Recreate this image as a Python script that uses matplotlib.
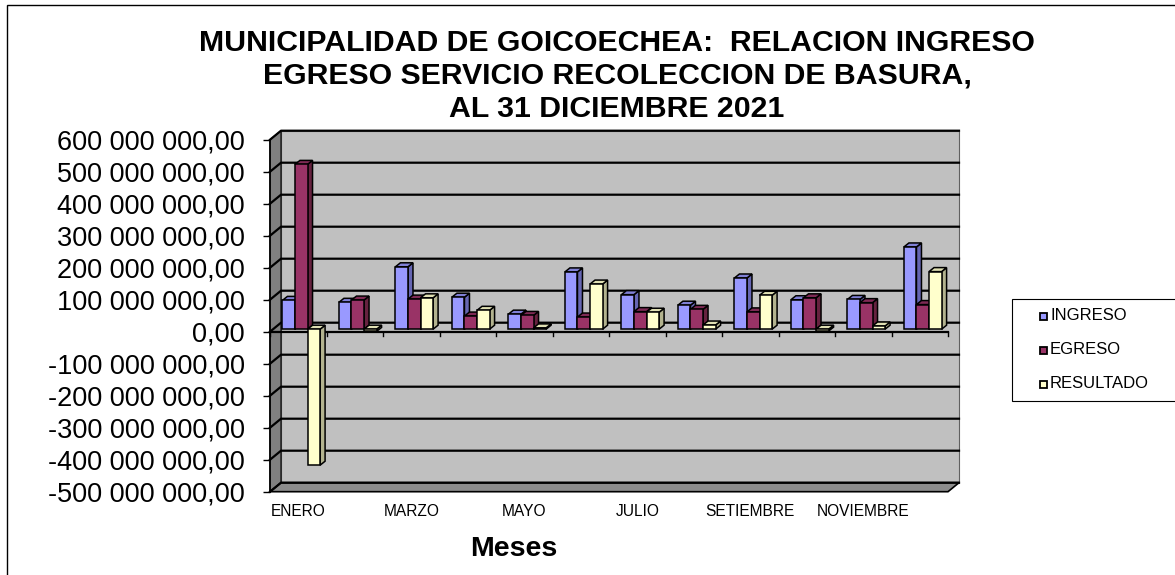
import matplotlib
matplotlib.use('Agg')
import matplotlib.pyplot as plt
from matplotlib.patches import Polygon, Rectangle
from matplotlib.lines import Line2D
from matplotlib.transforms import IdentityTransform
from matplotlib.ticker import FuncFormatter

plt.rcParams['font.family'] = ['Liberation Sans', 'DejaVu Sans']

# datos
meses = ['ENERO', 'FEBRERO', 'MARZO', 'ABRIL', 'MAYO', 'JUNIO', 'JULIO',
         'AGOSTO', 'SETIEMBRE', 'OCTUBRE', 'NOVIEMBRE', 'DICIEMBRE']
ingreso = [90e6, 84e6, 195e6, 100e6, 47e6, 179e6, 108e6, 75e6, 160e6, 92e6, 93e6, 257e6]
egreso = [515e6, 91e6, 94e6, 41e6, 43e6, 38e6, 55e6, 62e6, 54e6, 98e6, 83e6, 77e6]
resultado = [-425e6, -7e6, 98e6, 59e6, 4e6, 141e6, 53e6, 13e6, 106e6, -6e6, 10e6, 180e6]
series = ['INGRESO', 'EGRESO', 'RESULTADO']
y_ticks = [-500e6, -400e6, -300e6, -200e6, -100e6, 0, 100e6, 200e6, 300e6, 400e6, 500e6, 600e6]

front_col = ['#9999FF', '#993366', '#FFFFCC']
top_col = ['#8080D6', '#7F2A55', '#E0E0B3']
side_col = ['#6666B3', '#66223F', '#B3B38F']

W, H = 1175, 575
fig = plt.figure(figsize=(W / 100, H / 100), dpi=100)
ax = fig.add_axes([270 / W, 1 - 491.7 / H, 678 / W, 352 / H])
ymin, ymax = y_ticks[0], y_ticks[-1]
ncat = len(meses)
ax.set_xlim(0, ncat)
ax.set_ylim(ymin, ymax)
ax.patch.set_visible(False)

DEPTH = (11, 9)       # profundidad de las paredes (px)
BAR_OFF = (3, 2.5)    # barras un poco detras del plano frontal
BAR_DEPTH = (5, 4)


def px(x, y, off=(0, 0)):
    p = ax.transData.transform((x, y))
    return (p[0] + off[0], p[1] + off[1])


def add(pts, fc, z, ec='black', lw=0.8):
    ax.add_patch(Polygon(pts, closed=True, facecolor=fc, edgecolor=ec, linewidth=lw,
                         transform=IdentityTransform(), zorder=z, clip_on=False))


def line(pts, z, lw=1.6, color='black'):
    xs = [p[0] for p in pts]
    ys = [p[1] for p in pts]
    ax.add_line(Line2D(xs, ys, color=color, linewidth=lw, transform=IdentityTransform(),
                       zorder=z, clip_on=False))


# paredes
add([px(0, ymin, DEPTH), px(ncat, ymin, DEPTH), px(ncat, ymax, DEPTH), px(0, ymax, DEPTH)],
    '#C0C0C0', 0.5, ec='#606060', lw=0.8)
add([px(0, ymin), px(0, ymax), px(0, ymax, DEPTH), px(0, ymin, DEPTH)], '#808080', 0.6, lw=0.8)
add([px(0, ymin), px(ncat, ymin), px(ncat, ymin, DEPTH), px(0, ymin, DEPTH)], '#8C8C8C', 0.6, lw=1.2)

# lineas de division
for yt in y_ticks:
    line([px(0, yt), px(0, yt, DEPTH), px(ncat, yt, DEPTH)], 0.8)

# eje de categorias en cero
line([px(0, 0), px(ncat, 0)], 0.9)
for i in range(ncat + 1):
    p = px(i, 0)
    line([p, (p[0], p[1] - 4)], 0.9, lw=1)

# barras 3D
w = 1 / 4.5
valores = [ingreso, egreso, resultado]
z = 2
for i in range(ncat):
    for k in range(3):
        v = valores[k][i]
        x0 = i + 0.75 * w + k * w
        lo, hi = min(0, v), max(0, v)
        p00 = px(x0, lo, BAR_OFF)
        p10 = px(x0 + w, lo, BAR_OFF)
        p11 = px(x0 + w, hi, BAR_OFF)
        p01 = px(x0, hi, BAR_OFF)
        d = BAR_DEPTH
        add([p10, p11, (p11[0] + d[0], p11[1] + d[1]), (p10[0] + d[0], p10[1] + d[1])],
            side_col[k], z, lw=1.1)
        add([p01, p11, (p11[0] + d[0], p11[1] + d[1]), (p01[0] + d[0], p01[1] + d[1])],
            top_col[k], z, lw=1.1)
        add([p00, p10, p11, p01], front_col[k], z, lw=1.1)
        z += 0.01

# ejes
for s in ['top', 'right', 'bottom']:
    ax.spines[s].set_visible(False)
ax.spines['left'].set_linewidth(1.2)
ax.spines['left'].set_zorder(1)
ax.set_yticks(y_ticks)
ax.yaxis.set_major_formatter(FuncFormatter(
    lambda v, pos: f'{v:,.2f}'.replace(',', ' ').replace('.', ',')))
ax.tick_params(axis='y', length=5, width=1, pad=13, labelsize=19.5)
ax.set_xticks([i + 0.5 for i in range(0, ncat, 2)])
ax.set_xticklabels([meses[i] for i in range(0, ncat, 2)])
ax.tick_params(axis='x', length=0, pad=9, labelsize=11.2)

ax.set_xlabel('Meses', fontsize=20.5, fontweight='bold', va='top')
ax.xaxis.set_label_coords((514 - 270) / 678, (491.7 - 536) / 352)

fig.text(617 / W, 1 - 29 / H,
         'MUNICIPALIDAD DE GOICOECHEA:  RELACION INGRESO\nEGRESO SERVICIO RECOLECCION DE BASURA,\nAL 31 DICIEMBRE 2021',
         ha='center', va='top', fontsize=21.8, fontweight='bold', linespacing=1.22)

# leyenda
fig.add_artist(Rectangle((1012 / W, 1 - 401 / H), 0.2, 102 / H, transform=fig.transFigure,
                         facecolor='white', edgecolor='black', linewidth=0.8))
for k, name in enumerate(series):
    yc = 316 + 34 * k
    fig.add_artist(Rectangle((1040 / W, 1 - (yc + 4) / H), 7 / W, 7 / H, transform=fig.transFigure,
                             facecolor=front_col[k], edgecolor='black', linewidth=1.3))
    fig.text(1050 / W, 1 - yc / H, name, ha='left', va='center', fontsize=12)

# marco del grafico
fig.add_artist(Rectangle((7 / W, -0.1), 1.2, 1.1 - 5 / H, transform=fig.transFigure,
                         fill=False, edgecolor='black', linewidth=1))

fig.savefig('out.png', dpi=100)
